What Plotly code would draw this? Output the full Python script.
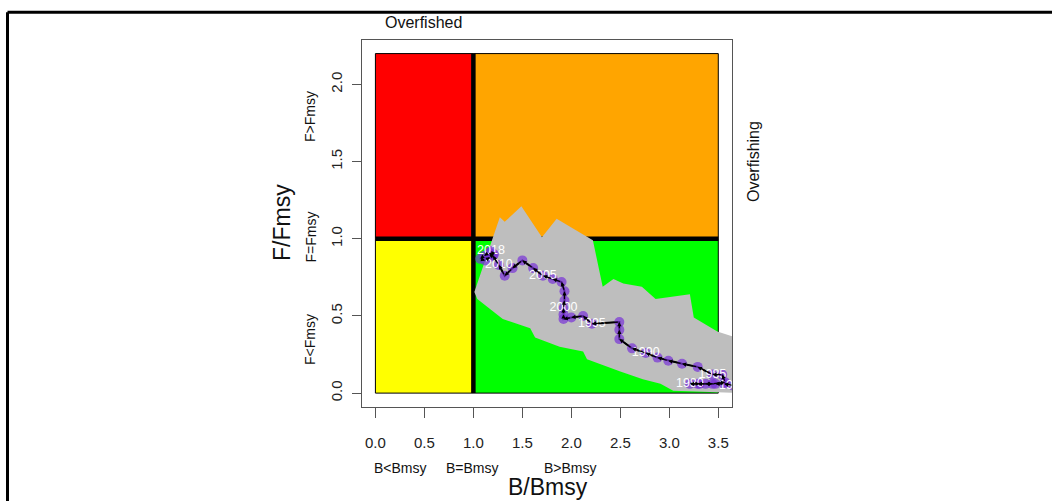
import plotly.graph_objects as go

W, H = 1052, 501

# ---- data ----
years = list(range(1975, 2019))
b_ratio = [3.65, 3.56, 3.47, 3.37, 3.29, 3.21, 3.31, 3.44, 3.57, 3.54,
           3.44, 3.29, 3.13, 2.99, 2.88, 2.76, 2.62, 2.49, 2.49, 2.49,
           2.21, 2.12, 2.00, 1.92, 1.92, 1.92, 1.93, 1.93, 1.90, 1.81,
           1.71, 1.61, 1.50, 1.40, 1.32, 1.26, 1.20, 1.16, 1.11, 1.07,
           1.12, 1.17, 1.21, 1.18]
f_ratio = [0.05, 0.06, 0.06, 0.06, 0.06, 0.06, 0.06, 0.06, 0.07, 0.12,
           0.12, 0.17, 0.19, 0.21, 0.23, 0.26, 0.29, 0.35, 0.41, 0.46,
           0.45, 0.50, 0.49, 0.48, 0.51, 0.55, 0.60, 0.66, 0.72, 0.74,
           0.76, 0.81, 0.86, 0.81, 0.76, 0.83, 0.89, 0.91, 0.89, 0.87,
           0.86, 0.88, 0.90, 0.92]
label_years = [1975, 1980, 1985, 1990, 1995, 2000, 2005, 2010, 2018]

# confidence region outline (upper edge left->right, lower edge right->left)
region_b = [1.01, 1.27, 1.32, 1.49, 1.70, 1.85, 2.06, 2.22, 2.32, 2.43,
            2.53, 2.72, 2.86, 3.21, 3.25, 3.49, 3.73, 3.73,
            3.04, 2.91, 2.73, 2.50, 2.16, 2.12, 1.88, 1.63, 1.58, 1.30, 1.04]
region_f = [0.655, 1.14, 1.11, 1.21, 1.01, 1.13, 1.05, 0.99, 0.69, 0.74,
            0.71, 0.69, 0.61, 0.64, 0.49, 0.40, 0.35, 0.0,
            0.015, 0.06, 0.09, 0.14, 0.22, 0.27, 0.30, 0.36, 0.42, 0.48, 0.61]

x_ticks = [0.0, 0.5, 1.0, 1.5, 2.0, 2.5, 3.0, 3.5]
y_ticks = [0.0, 0.5, 1.0, 1.5, 2.0]

FONT = "Liberation Sans, Arial, sans-serif"


def px(x):
    return x / W


def py(y):
    return 1 - y / H


fig = go.Figure()

# gray uncertainty region
fig.add_trace(go.Scatter(
    x=region_b + [region_b[0]], y=region_f + [region_f[0]],
    mode="lines", fill="toself", fillcolor="#BEBEBE",
    line=dict(width=0, color="#BEBEBE"), hoverinfo="skip", showlegend=False))

# trajectory line
fig.add_trace(go.Scatter(
    x=b_ratio, y=f_ratio, mode="lines+markers",
    line=dict(color="black", width=2),
    marker=dict(size=10, color="rgba(120,50,215,0.7)", line=dict(width=0)),
    showlegend=False))

# year labels
lab_x = [b_ratio[years.index(y)] for y in label_years]
lab_y = [f_ratio[years.index(y)] for y in label_years]
fig.add_trace(go.Scatter(
    x=lab_x, y=lab_y, mode="text", text=[str(y) for y in label_years],
    textposition="middle center",
    textfont=dict(color="white", size=12.5, family=FONT),
    showlegend=False, cliponaxis=True))

shapes = []
# quadrants
for (x0, x1, y0, y1, c) in [(0, 1, 1, 2.2, "#FF0000"), (1, 3.5, 1, 2.2, "#FFA500"),
                            (0, 1, 0, 1, "#FFFF00"), (1, 3.5, 0, 1, "#00FF00")]:
    shapes.append(dict(type="rect", xref="x", yref="y", x0=x0, x1=x1, y0=y0, y1=y1,
                       fillcolor=c, line=dict(color="black", width=1), layer="below"))
# reference lines
shapes.append(dict(type="line", xref="x", yref="y", x0=1, x1=1, y0=0, y1=2.2,
                   line=dict(color="black", width=4.5), layer="below"))
shapes.append(dict(type="line", xref="x", yref="y", x0=0, x1=3.5, y0=1, y1=1,
                   line=dict(color="black", width=4.5), layer="below"))
# outer frame
shapes.append(dict(type="line", xref="paper", yref="paper", x0=px(7.5), x1=1.0,
                   y0=py(12.3), y1=py(12.3), line=dict(color="black", width=3)))
shapes.append(dict(type="line", xref="paper", yref="paper", x0=px(7.5), x1=px(7.5),
                   y0=py(12.3), y1=0, line=dict(color="black", width=3)))

# arrowheads along trajectory
annotations = []
for i in range(len(years) - 1):
    annotations.append(dict(
        x=b_ratio[i + 1], y=f_ratio[i + 1], ax=b_ratio[i], ay=f_ratio[i],
        xref="x", yref="y", axref="x", ayref="y", text="", showarrow=True,
        arrowhead=2, arrowsize=0.7, arrowwidth=1.2, arrowcolor="black", standoff=0))


def txt(t, x, y, size, angle=0):
    annotations.append(dict(text=t, x=px(x), y=py(y), xref="paper", yref="paper",
                            showarrow=False, xanchor="center", yanchor="middle",
                            textangle=angle, font=dict(size=size, color="#111", family=FONT)))


txt("Overfished", 423, 22, 16)
txt("Overfishing", 753, 162, 16, -90)
txt("F/Fmsy", 282, 223, 23, -90)
txt("F&gt;Fmsy", 310, 117, 14, -90)
txt("F=Fmsy", 310, 237.5, 14, -90)
txt("F&lt;Fmsy", 310, 340, 14, -90)
txt("B&lt;Bmsy", 400, 467.5, 14)
txt("B=Bmsy", 472.5, 467.5, 14)
txt("B&gt;Bmsy", 570.5, 467.5, 14)
txt("B/Bmsy", 547.5, 487, 23)

fig.update_layout(
    width=W, height=H, margin=dict(l=0, r=0, t=0, b=0),
    paper_bgcolor="white", plot_bgcolor="white",
    shapes=shapes, annotations=annotations, showlegend=False,
    xaxis=dict(domain=[361.7 / W, 732 / W], range=[-0.14, 3.64],
               tickvals=x_ticks, ticktext=[f"{v:.1f}" for v in x_ticks],
               ticks="outside", ticklen=10, tickcolor="#555", tickwidth=1,
               showline=True, mirror=True, linecolor="#555", linewidth=1,
               showgrid=False, zeroline=False, ticklabelstandoff=12,
               tickfont=dict(size=15, color="#222", family=FONT)),
    yaxis=dict(domain=[1 - 406.7 / H, 1 - 40 / H], range=[-0.088, 2.288],
               tickvals=y_ticks, ticktext=[f"{v:.1f}" for v in y_ticks],
               ticks="outside", ticklen=9, tickcolor="#555", tickwidth=1,
               tickangle=-90,
               showline=True, mirror=True, linecolor="#555", linewidth=1,
               showgrid=False, zeroline=False, ticklabelstandoff=4,
               tickfont=dict(size=15, color="#222", family=FONT)),
)

fig.write_html("out.html")
